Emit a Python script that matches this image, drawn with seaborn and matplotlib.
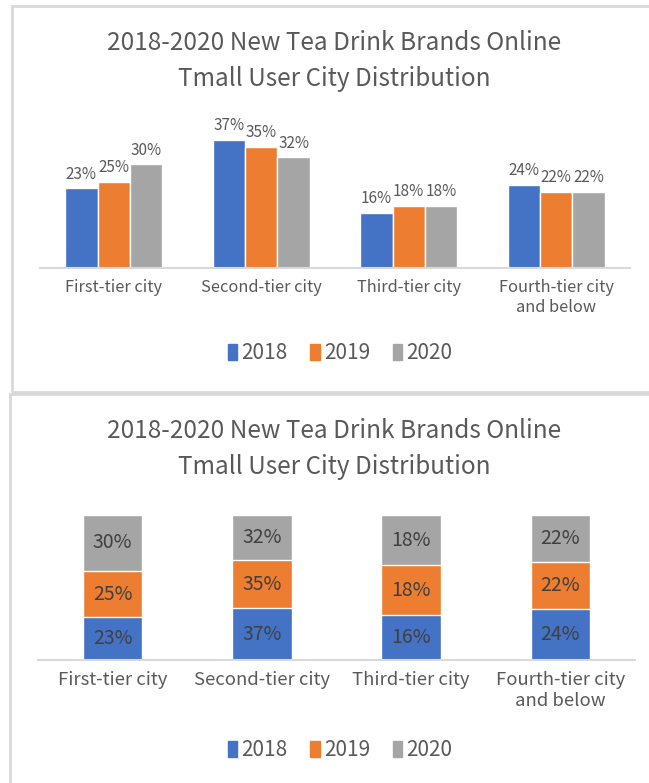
import pandas as pd
import numpy as np
import matplotlib
matplotlib.use("Agg")
import matplotlib.pyplot as plt
from matplotlib.patches import Rectangle
import seaborn as sns

# data
cities = ["First-tier city", "Second-tier city", "Third-tier city", "Fourth-tier city\nand below"]
years = ["2018", "2019", "2020"]
share_2018 = [23, 37, 16, 24]
share_2019 = [25, 35, 18, 22]
share_2020 = [30, 32, 18, 22]
title = "2018-2020 New Tea Drink Brands Online\nTmall User City Distribution"

colors = ["#4472C4", "#ED7D31", "#A5A5A5"]
text_gray = "#595959"

sns.set_style("white")
plt.rcParams['font.family'] = ['Noto Sans CJK SC', 'DejaVu Sans']

df = pd.DataFrame({
    "city": cities * 3,
    "year": [y for y in years for _ in cities],
    "share": share_2018 + share_2019 + share_2020,
})

W, H = 649, 783
fig = plt.figure(figsize=(W / 100, H / 100), dpi=100)
fig.patch.set_facecolor("white")


def px_axes(left, top, right, bottom):
    return fig.add_axes([left / W, 1 - bottom / H, (right - left) / W, (bottom - top) / H])


def style_axes(ax):
    for s in ["top", "right", "left"]:
        ax.spines[s].set_visible(False)
    ax.spines["bottom"].set_color("#d9d9d9")
    ax.spines["bottom"].set_linewidth(1.5)
    ax.set_yticks([])
    ax.set_xlabel("")
    ax.set_ylabel("")
    ax.tick_params(axis="x", length=0, pad=8, labelcolor=text_gray)


# panel frames
fig.add_artist(Rectangle((12 / W, 1 - 392 / H), (W + 5) / W, 386 / H, transform=fig.transFigure,
                         fill=False, edgecolor="#d9d9d9", linewidth=2))
fig.add_artist(Rectangle((10 / W, -0.01), (W + 5) / W, (H - 394) / H + 0.01, transform=fig.transFigure,
                         fill=False, edgecolor="#d9d9d9", linewidth=2))

# ---- top: grouped bars
ax1 = px_axes(40, 120, 630, 268)
sns.barplot(data=df, x="city", y="share", hue="year", palette=colors, width=0.66,
            ax=ax1, legend=False, saturation=1)
ax1.set_ylim(0, 148 / 3.46)
ax1.set_xlim(-0.5, 3.5)
style_axes(ax1)
ax1.tick_params(axis="x", labelsize=11.8)
for cont, y in zip(ax1.containers, years):
    vals = df.loc[df["year"] == y, "share"].tolist()
    ax1.bar_label(cont, labels=[f"{v}%" for v in vals], padding=4, fontsize=11, color=text_gray)

fig.text(334 / W, 1 - 61 / H, title, ha="center", va="center", fontsize=17.5,
         color=text_gray, linespacing=1.45)

handles = [Rectangle((0, 0), 1, 1, color=c) for c in colors]
fig.legend(handles, years, loc="center", bbox_to_anchor=(340 / W, 1 - 353 / H), ncol=3,
           frameon=False, fontsize=15, handlelength=0.45, handleheight=0.8,
           handletextpad=0.2, columnspacing=1.1, labelcolor=text_gray)

# ---- bottom: 100% stacked bars
totals = np.array(share_2018) + np.array(share_2019) + np.array(share_2020)
p18 = np.array(share_2018) / totals * 100
p19 = np.array(share_2019) / totals * 100
p20 = np.array(share_2020) / totals * 100

ax2 = px_axes(38, 500, 635, 660)
cum = [p18 + p19 + p20, p18 + p19, p18]
for c, y in zip(colors[::-1], cum):
    sns.barplot(x=cities, y=y, color=c, width=0.4, ax=ax2, saturation=1)
ax2.set_ylim(0, 160 / 1.45)
ax2.set_xlim(-0.5, 3.5)
style_axes(ax2)
ax2.tick_params(axis="x", labelsize=13.3)

bottoms = [np.zeros(4), p18, p18 + p19]
for vals, pct, b in zip([share_2018, share_2019, share_2020], [p18, p19, p20], bottoms):
    for i, v in enumerate(vals):
        ax2.text(i, b[i] + pct[i] / 2, f"{v}%", ha="center", va="center",
                 fontsize=14, color="#404040")

fig.text(334 / W, 1 - 449 / H, title, ha="center", va="center", fontsize=17.5,
         color=text_gray, linespacing=1.45)
fig.legend(handles, years, loc="center", bbox_to_anchor=(340 / W, 1 - 750 / H), ncol=3,
           frameon=False, fontsize=15, handlelength=0.45, handleheight=0.8,
           handletextpad=0.2, columnspacing=1.1, labelcolor=text_gray)

fig.savefig("out.png", dpi=100)
